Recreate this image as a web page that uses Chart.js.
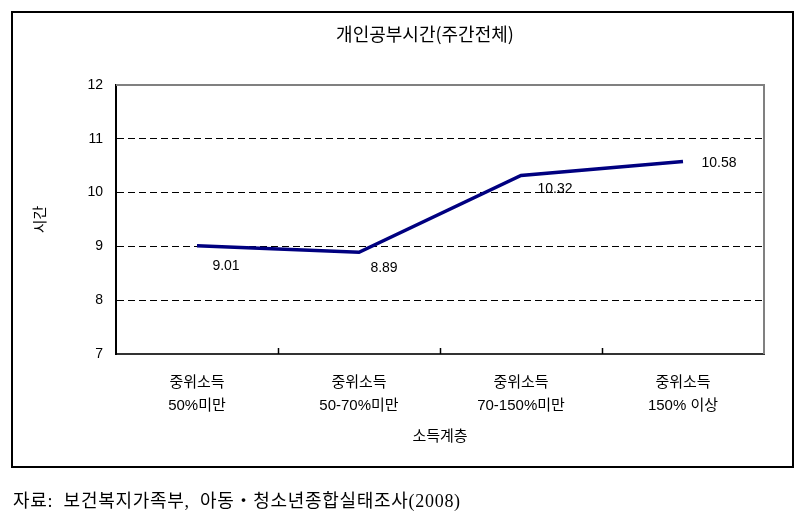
<!DOCTYPE html>
<html>
<head>
<meta charset="utf-8">
<script src="https://cdn.jsdelivr.net/npm/chart.js@4"></script>
<style>
  html, body { margin: 0; padding: 0; background: #fff; }
  #wrap { position: relative; width: 805px; height: 518px; overflow: hidden; }
  #box { position: absolute; left: 11px; top: 11px; width: 779px; height: 453px; border: 2px solid #000; }
  #chart { position: absolute; left: 0; top: 0; }
  #source { position: absolute; left: 13px; top: 486px; font-family: 'Liberation Serif', 'Noto Sans CJK KR', serif; font-size: 18px; letter-spacing: 0.7px; color: #000; white-space: pre; }
</style>
</head>
<body>
<div id="wrap">
  <div id="box"></div>
  <canvas id="chart" width="805" height="518"></canvas>
  <div id="source">자료:  보건복지가족부,  아동・청소년종합실태조사(2008)</div>
</div>
<script>
// ---- data ----
const chartTitle = '개인공부시간(주간전체)';
const categoryLine1 = ['중위소득', '중위소득', '중위소득', '중위소득'];
const categoryLine2 = ['50%미만', '50-70%미만', '70-150%미만', '150% 이상'];
const studyHours = [9.01, 8.89, 10.32, 10.58];
const valueLabels = ['9.01', '8.89', '10.32', '10.58'];
const yAxisTitle = '시간';
const xAxisTitle = '소득계층';
const yMin = 7, yMax = 12, yStep = 1;

// ---- style (label placement relative to its point) ----
const labelOffsets = [[29, 20], [25, 16], [34, 14], [36, 2]];

const FONT = "'Liberation Sans', 'Noto Sans CJK KR', sans-serif";
Chart.defaults.color = '#000';
Chart.defaults.font.family = FONT;

const labels = categoryLine1.map((t, i) => [t, categoryLine2[i]]);

const framePlugin = {
  id: 'frame',
  afterLayout(chart) {
    // shift the title block so it is centred where the original put it
    const tb = chart.titleBlock;
    if (tb) { tb.left = tb.left + 86; }
  },
  beforeDatasetsDraw(chart) {
    const {ctx, chartArea: a, scales: {x}} = chart;
    ctx.save();
    // top and right plot-area edges in grey
    ctx.strokeStyle = '#808080';
    ctx.lineWidth = 2;
    ctx.beginPath();
    ctx.moveTo(a.left, a.top);
    ctx.lineTo(a.right, a.top);
    ctx.lineTo(a.right, a.bottom);
    ctx.stroke();
    // inward tick marks between categories
    ctx.strokeStyle = '#000';
    ctx.lineWidth = 1.5;
    for (let i = 0; i < labels.length - 1; i++) {
      const px = Math.round((x.getPixelForValue(i) + x.getPixelForValue(i + 1)) / 2) + 0.5;
      ctx.beginPath();
      ctx.moveTo(px, a.bottom);
      ctx.lineTo(px, a.bottom - 6);
      ctx.stroke();
    }
    ctx.restore();
  },
  afterDatasetsDraw(chart) {
    const {ctx} = chart;
    const meta = chart.getDatasetMeta(0);
    ctx.save();
    ctx.font = '14px ' + FONT;
    ctx.fillStyle = '#000';
    ctx.textAlign = 'center';
    ctx.textBaseline = 'middle';
    meta.data.forEach((pt, i) => {
      const [dx, dy] = labelOffsets[i];
      ctx.fillText(valueLabels[i], pt.x + dx, pt.y + dy);
    });
    ctx.restore();
  }
};

new Chart(document.getElementById('chart'), {
  type: 'line',
  data: {
    labels: labels,
    datasets: [{
      data: studyHours,
      borderColor: '#000080',
      borderWidth: 3.5,
      pointRadius: 0,
      pointHoverRadius: 0,
      tension: 0,
      fill: false
    }]
  },
  options: {
    responsive: false,
    animation: false,
    events: [],
    layout: { padding: { left: 0, right: 41, top: 0, bottom: 0 } },
    plugins: {
      legend: { display: false },
      tooltip: { enabled: false },
      title: {
        display: true,
        text: chartTitle,
        color: '#000',
        font: { family: "'Noto Sans CJK KR', sans-serif", size: 18, weight: 'normal', lineHeight: 1.2 },
        padding: { top: 23, bottom: 40.4 }
      }
    },
    scales: {
      x: {
        type: 'category',
        offset: true,
        grid: { display: false },
        border: { display: true, color: '#333', width: 2 },
        ticks: {
          padding: 9.5,
          maxRotation: 0,
          autoSkip: false,
          color: '#000',
          font: { size: 15, lineHeight: 23 / 15 }
        },
        title: {
          display: true,
          text: xAxisTitle,
          color: '#000',
          font: { size: 15, lineHeight: 1.2 },
          padding: { top: 0, bottom: 72 }
        },
        afterFit(scale) { scale.height = 164; }
      },
      y: {
        min: yMin,
        max: yMax,
        grid: {
          drawTicks: false,
          color: (c) => (c.tick && (c.tick.value === yMin || c.tick.value === yMax)) ? 'rgba(0,0,0,0)' : '#000',
          lineWidth: 1
        },
        border: { display: true, color: '#000', width: 2, dash: [7, 4] },
        ticks: {
          stepSize: yStep,
          padding: 13,
          color: '#000',
          font: { size: 14 }
        },
        title: {
          display: true,
          text: yAxisTitle,
          color: '#000',
          font: { size: 15, lineHeight: 1.2 },
          padding: { top: 32, bottom: 0 }
        },
        afterFit(scale) { scale.width = 116; }
      }
    }
  },
  plugins: [framePlugin]
});
</script>
</body>
</html>
